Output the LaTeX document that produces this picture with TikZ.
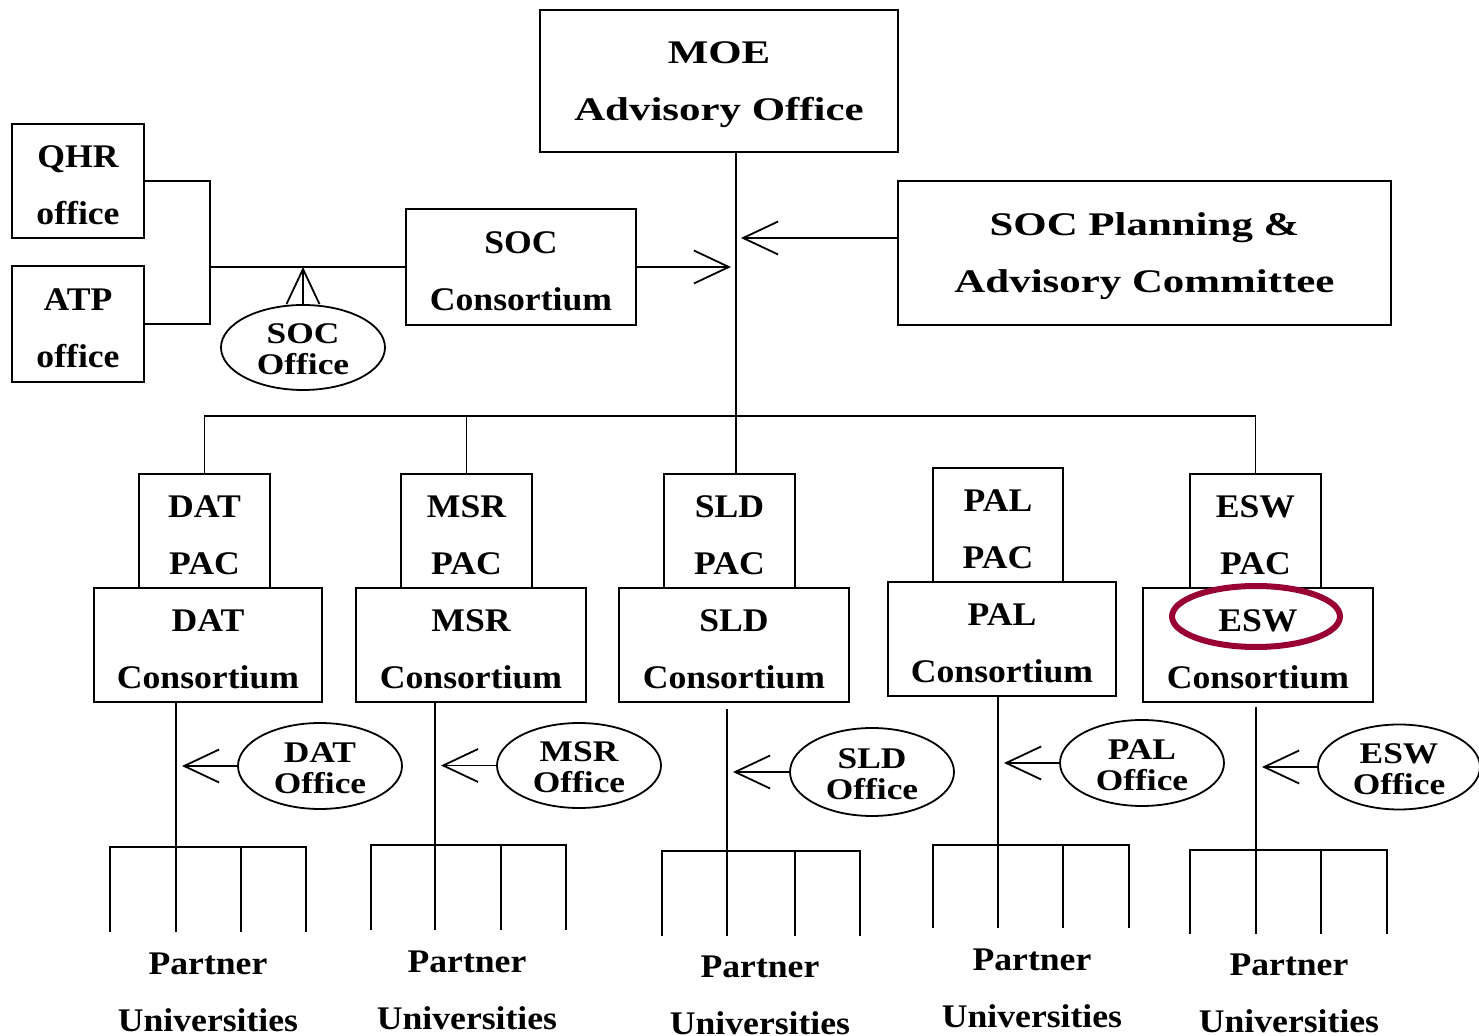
\documentclass[tikz,border=0pt]{standalone}
\usepackage{fontspec}
\setmainfont{Liberation Serif}
\newfontfamily\fnorm[FakeStretch=1.08]{Liberation Serif}
\newfontfamily\fwide[FakeStretch=1.3]{Liberation Serif}
\newfontfamily\foval[FakeStretch=1.18]{Liberation Serif}
\usetikzlibrary{arrows.meta,shapes.geometric}
\definecolor{hred}{RGB}{153,0,51}
\newcommand{\tbx}{\rule{0pt}{14.8pt}}
\newcommand{\tov}{\rule{0pt}{11.9pt}}
\tikzset{
  ln/.style={line width=0.9pt},
  sz/.style 2 args={minimum width=#1*0.5pt, minimum height=#2*0.5pt},
  box/.style={draw, ln, rectangle, inner sep=0pt, align=center,
    font=\fnorm\bfseries\fontsize{16.5}{28.5}\selectfont},
  widebox/.style={box, font=\fwide\bfseries\fontsize{16.5}{28.5}\selectfont},
  oval/.style={draw, ln, ellipse, inner sep=0pt, align=center,
    font=\foval\bfseries\fontsize{15}{15.5}\selectfont},
  txt/.style={inner sep=0pt, align=center,
    font=\fnorm\bfseries\fontsize{16.5}{28.5}\selectfont},
  arr/.style={ln, -{Straight Barb[length=17.5pt,width=16.5pt,line width=0.9pt]}},
}
\newcommand{\myfork}[7]{% name, x1..x4, ytop, ybot
  \coordinate (#1a) at (#2,#6); \coordinate (#1b) at (#3,#6);
  \coordinate (#1c) at (#4,#6); \coordinate (#1d) at (#5,#6);
  \draw[ln] (#1a |- 0,#7) -- (#1a) -- (#1d) -- (#1d |- 0,#7);
  \draw[ln] (#1b) -- (#1b |- 0,#7);
  \draw[ln] (#1c) -- (#1c |- 0,#7);
}
\begin{document}
\begin{tikzpicture}[x=0.5pt,y=-0.5pt]
\useasboundingbox[fill=white] (0,0) rectangle (1479,1036);

% top level
\node[widebox, sz={358}{142}] (moe) at (719,81) {\tbx MOE\\Advisory Office};
\node[box, sz={132}{114}] (qhr) at (78,181) {\tbx QHR\\office};
\node[box, sz={132}{116}] (atp) at (78,324) {\tbx ATP\\office};
\node[box, sz={230}{116}] (socc) at (521,267) {\tbx SOC\\Consortium};
\node[widebox, sz={493}{144}] (socp) at (1144.5,253) {\tbx SOC Planning \&\\Advisory Committee};
\node[oval, sz={164}{85}] (soco) at (303,347.5) {\tov SOC\\Office};

\coordinate (j1) at (210,267);
\coordinate (sp) at (736,416);
\coordinate (t1) at (731,267);
\coordinate (t2) at (741,238);

\draw[ln] (qhr.east) -| (j1) |- (atp.east);
\draw[ln] (j1) -- (socc.west);
\draw[arr] (soco.north) -- (soco.north |- socc.west);
\draw[arr] (socc.east) -- (t1);
\draw[arr] (socp.west |- t2) -- (t2);

% PAC boxes
\node[box, sz={131}{114}] (datpac) at (204.5,531) {\tbx DAT\\PAC};
\node[box, sz={131}{114}] (msrpac) at (466.5,531) {\tbx MSR\\PAC};
\node[box, sz={131}{114}] (sldpac) at (729.5,531) {\tbx SLD\\PAC};
\node[box, sz={130}{114}] (palpac) at (998,525) {\tbx PAL\\PAC};
\node[box, sz={131}{114}] (eswpac) at (1255.5,531) {\tbx ESW\\PAC};

% consortium boxes
\node[box, sz={228}{114}] (datcons) at (208,645) {\tbx DAT\\Consortium};
\node[box, sz={230}{114}] (msrcons) at (471,645) {\tbx MSR\\Consortium};
\node[box, sz={230}{114}] (sldcons) at (734,645) {\tbx SLD\\Consortium};
\node[box, sz={228}{114}] (palcons) at (1002,639) {\tbx PAL\\Consortium};
\node[box, sz={230}{114}] (eswcons) at (1258,645) {\tbx ESW\\Consortium};

% spine and bus
\draw[ln] (moe.south -| sp) -- (sp |- sldpac.north);
\draw[ln] (datpac.north) -- (datpac.north |- sp) -- (eswpac.north |- sp) -- (eswpac.north);
\draw[ln] (msrpac.north) -- (msrpac.north |- sp);

% offices
\node[oval, sz={164}{86}] (datoff) at (320,766) {\tov DAT\\Office};
\node[oval, sz={164}{85}] (msroff) at (579,765.5) {\tov MSR\\Office};
\node[oval, sz={164}{88}] (sldoff) at (872,772) {\tov SLD\\Office};
\node[oval, sz={164}{86}] (paloff) at (1142,763) {\tov PAL\\Office};
\node[oval, sz={162}{85}] (eswoff) at (1399,767) {\tov ESW\\Office};

% forks
\myfork{df}{110}{176}{241}{306}{847}{932}
\myfork{mf}{371}{435}{501}{566}{845}{930}
\myfork{sf}{662}{727}{795}{860}{851}{936}
\myfork{pf}{933}{998}{1063}{1129}{845}{928}
\myfork{ef}{1190}{1256}{1321}{1387}{850}{934}

\draw[ln] (datcons.south -| dfb) -- (dfb);
\draw[ln] (msrcons.south -| mfb) -- (mfb);
\draw[ln, shorten <=3pt] (sldcons.south -| sfb) -- (sfb);
\draw[ln] (palcons.south -| pfb) -- (pfb);
\draw[ln, shorten <=2pt] (eswcons.south -| efb) -- (efb);

\draw[arr, shorten >=3pt] (datoff.west) -- (datoff.west -| dfb);
\draw[arr, shorten >=3pt] (msroff.west) -- (msroff.west -| mfb);
\draw[arr, shorten >=3pt] (sldoff.west) -- (sldoff.west -| sfb);
\draw[arr, shorten >=3pt] (paloff.west) -- (paloff.west -| pfb);
\draw[arr, shorten >=3pt] (eswoff.west) -- (eswoff.west -| efb);

% partner universities
\node[txt] (datpu) at (208,992) {Partner\\Universities};
\node[txt] (msrpu) at (467,990) {Partner\\Universities};
\node[txt] (sldpu) at (760,995) {Partner\\Universities};
\node[txt] (palpu) at (1032,988) {Partner\\Universities};
\node[txt] (eswpu) at (1289,993) {Partner\\Universities};

% highlight
\node[draw=hred, line width=3pt, ellipse, inner sep=0pt, sz={168}{61}] (hl) at (1256,616.5) {};
\end{tikzpicture}
\end{document}
